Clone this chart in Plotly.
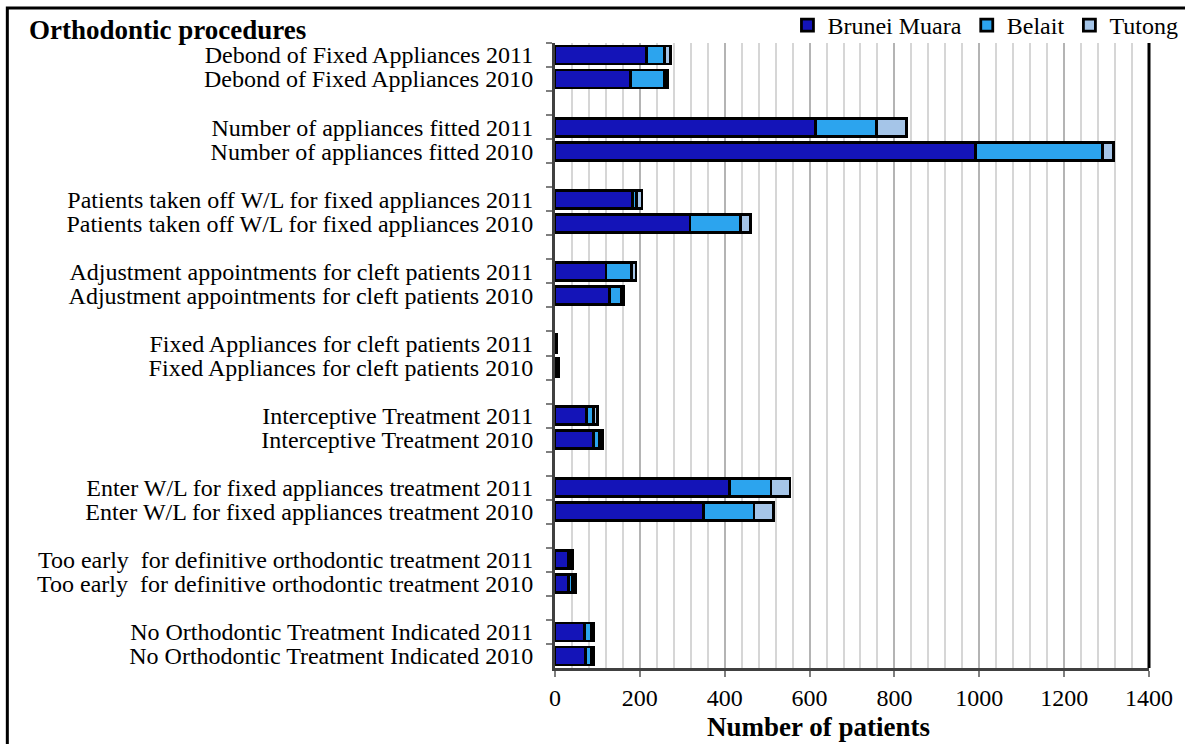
import plotly.graph_objects as go

# Orthodontic procedures by district, 2010 vs 2011
procedures = [
    "Debond of Fixed Appliances",
    "Number of appliances fitted",
    "Patients taken off W/L for fixed appliances",
    "Adjustment appointments for cleft patients",
    "Fixed Appliances for cleft patients",
    "Interceptive Treatment",
    "Enter W/L for fixed appliances treatment",
    "Too early  for definitive orthodontic treatment",
    "No Orthodontic Treatment Indicated",
]
years = ["2011", "2010"]

brunei_2011 = [215, 614, 183, 120, 2, 75, 412, 31, 69]
belait_2011 = [43, 143, 10, 61, 0, 16, 97, 5, 17]
tutong_2011 = [15, 72, 12, 10, 1, 10, 45, 6, 6]

brunei_2010 = [178, 991, 318, 129, 6, 90, 350, 31, 72]
belait_2010 = [81, 300, 120, 27, 1, 15, 119, 10, 14]
tutong_2010 = [6, 25, 22, 6, 1, 7, 46, 8, 6]

series = [
    ("Brunei Muara", brunei_2011, brunei_2010, "#1414B8"),
    ("Belait", belait_2011, belait_2010, "#2CA4EE"),
    ("Tutong", tutong_2011, tutong_2010, "#A5C5E8"),
]

# category order (top to bottom) with an empty slot between groups
categories = []
for i, p in enumerate(procedures):
    for y in years:
        categories.append(f"{p} {y}")
    if i < len(procedures) - 1:
        categories.append(" " * (i + 1))

bar_cats = [f"{p} {y}" for p in procedures for y in years]

FONT = "Liberation Serif"

fig = go.Figure()
for name, v11, v10, color in series:
    vals = []
    for a, b in zip(v11, v10):
        vals += [a, b]
    fig.add_trace(go.Bar(
        name=name, y=bar_cats, x=vals, orientation="h",
        marker=dict(color=color, line=dict(color="black", width=2.8)),
    ))

fig.update_layout(
    barmode="stack",
    bargap=0.25,
    width=1185, height=744,
    margin=dict(l=555, r=36, t=43, b=76, autoexpand=False),
    paper_bgcolor="white", plot_bgcolor="white",
    font=dict(family=FONT, size=24, color="black"),
    showlegend=True,
    legend=dict(
        orientation="h", x=1.058, xanchor="right", y=1.064, yanchor="top",
        font=dict(family=FONT, size=24), bgcolor="rgba(0,0,0,0)",
        itemwidth=30, traceorder="normal",
    ),
    xaxis=dict(
        range=[0, 1400], dtick=200, tick0=0,
        showgrid=True, gridcolor="#B4B4B4", gridwidth=1.5,
        minor=dict(dtick=40, showgrid=True, gridcolor="#D6D6D6", gridwidth=1.5,
                   ticks=""),
        ticks="outside", ticklen=6, tickcolor="#7F7F7F", tickwidth=1.5,
        showline=True, linecolor="#404040", linewidth=3,
        tickfont=dict(family=FONT, size=24),
        zeroline=False,
    ),
    yaxis=dict(
        type="category", categoryorder="array", categoryarray=categories,
        autorange="reversed", tickson="boundaries", dtick=1,
        ticks="outside", ticklen=6, tickcolor="#7F7F7F", tickwidth=1.5,
        showline=True, linecolor="#404040", linewidth=3,
        showgrid=False, ticklabelstandoff=14,
        tickfont=dict(family=FONT, size=24),
    ),
)

# chart title, axis title and frame
fig.add_annotation(text="<b>Orthodontic procedures</b>", xref="paper", yref="paper",
                   x=-0.889, y=1.021, xanchor="left", yanchor="middle",
                   showarrow=False, font=dict(family=FONT, size=27))
fig.add_annotation(text="<b>Number of patients</b>", xref="paper", yref="paper",
                   x=0.443, y=-0.094, xanchor="center", yanchor="middle",
                   showarrow=False, font=dict(family=FONT, size=27))
fig.add_shape(type="line", xref="paper", yref="paper", x0=1, x1=1, y0=0, y1=1,
              line=dict(color="black", width=3))
fig.add_shape(type="rect", xref="paper", yref="paper",
              x0=-0.922, x1=1.08, y0=-0.14, y1=1.056,
              line=dict(color="black", width=3), fillcolor="rgba(0,0,0,0)")

fig.write_html("out.html")
